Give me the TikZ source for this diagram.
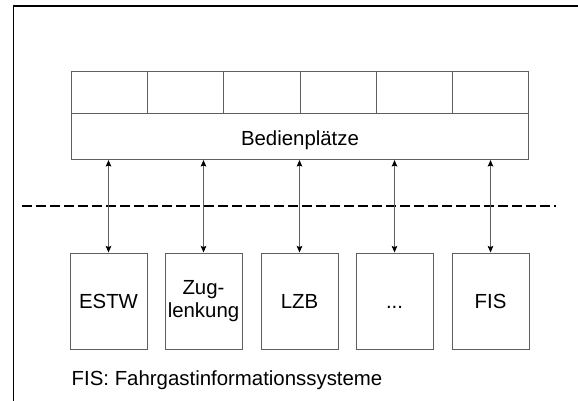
\documentclass[tikz,border=0pt]{standalone}
\usepackage{fontspec}
\setmainfont{Liberation Sans}
\usetikzlibrary{arrows.meta}
\definecolor{linegray}{RGB}{95,95,95}
\begin{document}
\begin{tikzpicture}[x=1pt,y=-1pt,
  font=\fontsize{20.4}{23}\selectfont,
  frameline/.style={draw=black, line width=1.6pt},
  cell/.style={draw=linegray, line width=1pt, minimum width=76.17pt, minimum height=42pt, inner sep=0pt, anchor=north west},
  panelbox/.style={draw=linegray, line width=1pt, minimum width=457pt, minimum height=46pt, inner sep=0pt, anchor=north west},
  sysbox/.style={draw=linegray, line width=1pt, minimum width=77pt, minimum height=96pt, inner sep=0pt, align=center},
  conn/.style={draw=linegray, line width=1pt, {Stealth[length=6.5pt,width=5.5pt,inset=1pt,color=black]}-{Stealth[length=6.5pt,width=5.5pt,inset=1pt,color=black]}},
  border/.style={draw=black, line width=2pt, dash pattern=on 10pt off 4pt}]
  \useasboundingbox (0,0) rectangle (578,401);
  % outer frame: top and left edges only
  \draw[frameline] (13.3,401) -- (13.3,6.3) -- (578,6.3);
  % operator console: six positions above the common panel
  \foreach \i in {0,...,5} {
    \node[cell] (cell\i) at ({71+76.17*\i},71) {};
  }
  \node[panelbox] (panel) at (71,113) {};
  \node at ([yshift=-4pt]panel.center) {Bedienplätze};
  % separation line
  \coordinate (sepL) at (22,206);
  \coordinate (sepR) at (556,206);
  \draw[border] (sepL) -- (sepR);
  % connected systems
  \node[sysbox] (estw) at (108.5,301) {ESTW};
  \node[sysbox] (zug)  at (203.5,301) {Zug-\\lenkung};
  \node[sysbox] (lzb)  at (299.5,301) {LZB};
  \node[sysbox] (more) at (394.5,301) {\vphantom{E}...};
  \node[sysbox] (fis)  at (490.5,301) {FIS};
  \foreach \s in {estw,zug,lzb,more,fis} {
    \draw[conn] (\s.north |- panel.south) -- (\s.north);
  }
  % legend
  \node[anchor=base west, inner sep=0pt] (legend) at (71.5,385.5) {FIS: Fahrgastinformationssysteme};
\end{tikzpicture}
\end{document}
